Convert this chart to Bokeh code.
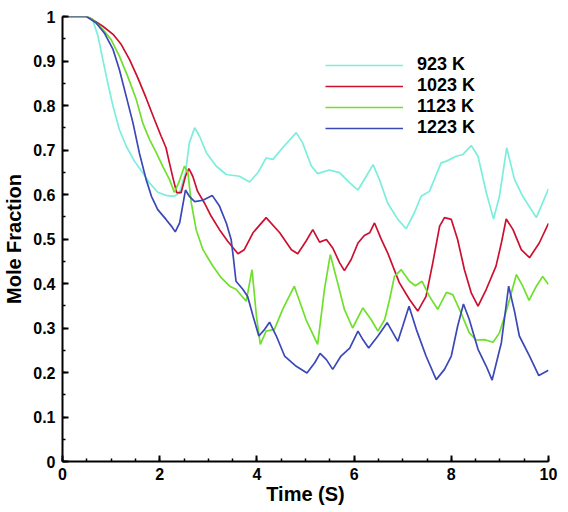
from bokeh.plotting import figure
from bokeh.models import FixedTicker, CustomJSTickFormatter, Range1d
from bokeh.embed import file_html
from bokeh.resources import INLINE

# ---- data ----
t_923 = [0, 0.5, 0.62, 0.73, 0.83, 0.93, 1.04, 1.17, 1.31, 1.48, 1.65, 1.79, 1.96, 2.13, 2.3, 2.41,
         2.53, 2.61, 2.72, 2.82, 2.96, 3.16, 3.37, 3.64, 3.85, 4.02, 4.19, 4.33, 4.53, 4.81, 4.94,
         5.12, 5.25, 5.49, 5.7, 5.91, 6.08, 6.25, 6.39, 6.52, 6.69, 6.9, 7.07, 7.24, 7.38, 7.55,
         7.79, 7.9, 8.1, 8.24, 8.41, 8.55, 8.72, 8.87, 8.99, 9.14, 9.3, 9.47, 9.75, 10.0]
v_923 = [1, 1, 0.993, 0.956, 0.903, 0.851, 0.798, 0.746, 0.709, 0.675, 0.649, 0.626, 0.605, 0.598, 0.596, 0.604,
         0.649, 0.716, 0.75, 0.731, 0.694, 0.664, 0.645, 0.641, 0.628, 0.649, 0.682, 0.679, 0.705, 0.739, 0.716,
         0.664, 0.647, 0.655, 0.649, 0.626, 0.61, 0.641, 0.667, 0.634, 0.581, 0.544, 0.523, 0.559, 0.596, 0.607,
         0.671, 0.675, 0.686, 0.69, 0.71, 0.686, 0.604, 0.545, 0.596, 0.705, 0.634, 0.596, 0.548, 0.613]

t_1023 = [0, 0.5, 0.62, 0.83, 1.04, 1.21, 1.38, 1.55, 1.72, 1.89, 2.03, 2.13, 2.2, 2.28, 2.35, 2.44,
          2.53, 2.6, 2.68, 2.78, 2.92, 3.06, 3.23, 3.4, 3.61, 3.74, 3.92, 4.19, 4.47, 4.71, 4.84,
          5.01, 5.15, 5.29, 5.43, 5.56, 5.7, 5.8, 5.94, 6.08, 6.21, 6.32, 6.42, 6.56, 6.69, 6.93,
          7.14, 7.31, 7.48, 7.62, 7.76, 7.86, 8.0, 8.13, 8.27, 8.41, 8.55, 8.72, 8.92, 9.03, 9.13,
          9.27, 9.44, 9.61, 9.81, 10.0]
v_1023 = [1, 1, 0.993, 0.978, 0.96, 0.937, 0.903, 0.862, 0.817, 0.769, 0.731, 0.705, 0.671, 0.634, 0.604, 0.604,
          0.641, 0.658, 0.641, 0.607, 0.581, 0.551, 0.521, 0.495, 0.467, 0.476, 0.514, 0.548, 0.514, 0.476, 0.467,
          0.495, 0.521, 0.493, 0.499, 0.48, 0.447, 0.429, 0.454, 0.491, 0.508, 0.514, 0.536, 0.499, 0.469, 0.402,
          0.364, 0.338, 0.371, 0.447, 0.529, 0.548, 0.544, 0.499, 0.431, 0.379, 0.349, 0.387, 0.439, 0.491, 0.545,
          0.521, 0.476, 0.458, 0.491, 0.535]

t_1123 = [0, 0.5, 0.62, 0.83, 1.0, 1.17, 1.34, 1.52, 1.65, 1.79, 1.93, 2.06, 2.2, 2.3, 2.39, 2.51,
          2.58, 2.65, 2.75, 2.89, 2.99, 3.09, 3.25, 3.44, 3.57, 3.78, 3.9, 3.99, 4.07, 4.19, 4.36,
          4.53, 4.77, 5.01, 5.25, 5.39, 5.51, 5.66, 5.8, 5.97, 6.18, 6.35, 6.49, 6.63, 6.73, 6.83,
          6.97, 7.14, 7.26, 7.4, 7.55, 7.72, 7.9, 8.03, 8.2, 8.37, 8.51, 8.68, 8.86, 8.99, 9.16,
          9.34, 9.47, 9.6, 9.75, 9.88, 10.0]
v_1123 = [1, 1, 0.993, 0.971, 0.948, 0.911, 0.866, 0.813, 0.761, 0.724, 0.694, 0.664, 0.634, 0.605, 0.626, 0.664,
          0.649, 0.581, 0.521, 0.476, 0.458, 0.44, 0.415, 0.394, 0.387, 0.36, 0.431, 0.327, 0.263, 0.293, 0.297,
          0.342, 0.394, 0.319, 0.263, 0.387, 0.465, 0.402, 0.342, 0.30, 0.345, 0.319, 0.293, 0.319, 0.364, 0.416,
          0.431, 0.405, 0.395, 0.405, 0.371, 0.342, 0.38, 0.375, 0.334, 0.289, 0.273, 0.274, 0.268, 0.289, 0.349,
          0.42, 0.394, 0.362, 0.394, 0.416, 0.398]

t_1223 = [0, 0.49, 0.69, 0.86, 1.04, 1.17, 1.31, 1.45, 1.58, 1.72, 1.83, 1.96, 2.13, 2.24, 2.32, 2.41,
          2.53, 2.61, 2.72, 2.89, 3.08, 3.23, 3.37, 3.47, 3.52, 3.57, 3.71, 3.81, 3.92, 4.04, 4.16,
          4.26, 4.4, 4.57, 4.81, 5.03, 5.19, 5.3, 5.43, 5.56, 5.73, 5.91, 6.08, 6.18, 6.3, 6.49,
          6.68, 6.9, 7.0, 7.13, 7.28, 7.48, 7.69, 7.86, 8.0, 8.13, 8.25, 8.37, 8.55, 8.72, 8.84,
          9.03, 9.18, 9.3, 9.4, 9.61, 9.8, 10.0]
v_1223 = [1, 1, 0.986, 0.963, 0.926, 0.881, 0.821, 0.761, 0.694, 0.634, 0.596, 0.566, 0.544, 0.529, 0.516, 0.536,
          0.61, 0.596, 0.584, 0.587, 0.598, 0.574, 0.536, 0.499, 0.454, 0.405, 0.387, 0.371, 0.327, 0.282, 0.297,
          0.313, 0.282, 0.237, 0.214, 0.199, 0.222, 0.243, 0.229, 0.207, 0.237, 0.255, 0.293, 0.274, 0.255, 0.282,
          0.312, 0.27, 0.304, 0.349, 0.297, 0.237, 0.184, 0.207, 0.237, 0.304, 0.354, 0.319, 0.252, 0.214, 0.183,
          0.267, 0.394, 0.338, 0.282, 0.237, 0.193, 0.205]

series = [
    ("923 K", t_923, v_923, "#7beedc"),
    ("1023 K", t_1023, v_1023, "#cc1030"),
    ("1123 K", t_1123, v_1123, "#6fe02c"),
    ("1223 K", t_1223, v_1223, "#3a48b8"),
]

x_ticks = [0, 2, 4, 6, 8, 10]
y_ticks = [0, 0.1, 0.2, 0.3, 0.4, 0.5, 0.6, 0.7, 0.8, 0.9, 1.0]

FONT = "Liberation Sans"

p = figure(frame_width=486, frame_height=445, output_backend="svg", toolbar_location=None,
           x_range=Range1d(0, 10), y_range=Range1d(0, 1),
           min_border_left=55, min_border_right=11, min_border_top=16, min_border_bottom=40)
p.outline_line_color = None
p.xgrid.visible = False
p.ygrid.visible = False
p.background_fill_color = "white"
p.border_fill_color = "white"

for name, t, v, c in series:
    p.line(t, v, line_color=c, line_width=1.7, legend_label=name)

fmt = CustomJSTickFormatter(code="return String(Math.round(tick*10)/10);")

p.xaxis.ticker = FixedTicker(ticks=x_ticks, minor_ticks=[i * 0.5 for i in range(21)])
p.yaxis.ticker = FixedTicker(ticks=y_ticks, minor_ticks=[i * 0.05 for i in range(21)])
p.xaxis.formatter = fmt
p.yaxis.formatter = fmt

for ax in (p.xaxis, p.yaxis):
    ax.axis_line_width = 2
    ax.axis_line_color = "black"
    ax.major_tick_in = 6
    ax.major_tick_out = 0
    ax.minor_tick_in = 3
    ax.minor_tick_out = 0
    ax.major_tick_line_width = 2
    ax.minor_tick_line_width = 1.5
    ax.major_label_text_font = FONT
    ax.major_label_text_font_style = "bold"
    ax.major_label_text_font_size = "16px"
    ax.major_label_text_color = "black"
    ax.axis_label_text_font = FONT
    ax.axis_label_text_font_style = "bold"
    ax.axis_label_text_font_size = "20px"
    ax.axis_label_text_color = "black"

p.xaxis.axis_label = "Time (S)"
p.yaxis.axis_label = "Mole Fraction"
p.xaxis.major_label_standoff = 6
p.yaxis.major_label_standoff = 7
p.xaxis.axis_label_standoff = 0
p.yaxis.axis_label_standoff = 5

lg = p.legend[0]
lg.location = (263, 323)
lg.border_line_color = None
lg.background_fill_alpha = 0
lg.padding = 0
lg.margin = 0
lg.spacing = -2
lg.glyph_width = 78
lg.glyph_height = 18
lg.label_height = 18
lg.label_standoff = 14
lg.label_text_font = FONT
lg.label_text_font_style = "bold"
lg.label_text_font_size = "18px"
lg.label_text_color = "black"

open("out.html", "w").write(file_html(p, INLINE))
